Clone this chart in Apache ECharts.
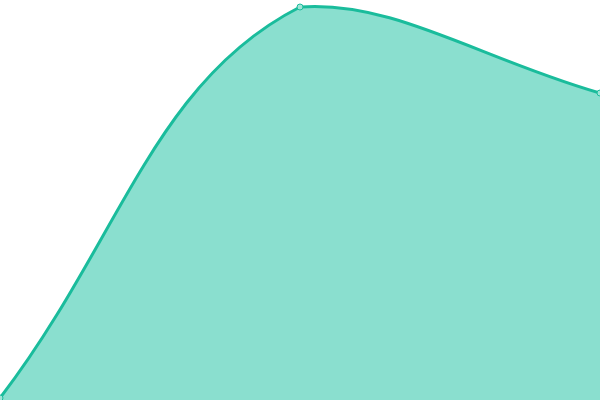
<!DOCTYPE html>
<html><head><meta charset="utf-8">
<script src="https://cdn.jsdelivr.net/npm/echarts@6/dist/echarts.min.js"></script>
<style>html,body{margin:0;padding:0;background:#fff}#c{width:600px;height:400px}</style>
</head><body><div id="c"></div>
<script>
var categories = ['A', 'B', 'C'];
var values = [2, 393, 307];

var LINE_COLOR = '#1abc9c';
var AREA_COLOR = '#8adfcf';
var TENSION = 0.4;

// Cardinal-style bezier smoothing, control points capped to the plot rect
function controlPoints(pts, smooth, rect) {
  function clamp(c) {
    return [Math.min(Math.max(c[0], rect.x), rect.x + rect.width),
            Math.min(Math.max(c[1], rect.y), rect.y + rect.height)];
  }
  var cps = [];
  for (var i = 0; i < pts.length; i++) {
    var p = pts[i];
    var prev = pts[i - 1] || p;
    var next = pts[i + 1] || p;
    var vx = next[0] - prev[0], vy = next[1] - prev[1];
    var d0 = Math.hypot(p[0] - prev[0], p[1] - prev[1]);
    var d1 = Math.hypot(p[0] - next[0], p[1] - next[1]);
    var sum = d0 + d1;
    if (sum !== 0) { d0 /= sum; d1 /= sum; }
    cps.push(clamp([p[0] - vx * smooth * d0, p[1] - vy * smooth * d0]));
    cps.push(clamp([p[0] + vx * smooth * d1, p[1] + vy * smooth * d1]));
  }
  return cps;
}

function curvePath(pts, rect) {
  var cps = controlPoints(pts, TENSION, rect);
  var d = 'M' + pts[0][0] + ' ' + pts[0][1];
  for (var i = 0; i < pts.length - 1; i++) {
    var a = cps[2 * i + 1], b = cps[2 * i + 2], q = pts[i + 1];
    d += ' C' + a[0] + ' ' + a[1] + ' ' + b[0] + ' ' + b[1] + ' ' + q[0] + ' ' + q[1];
  }
  return d;
}

function renderCurve(params, api) {
  if (params.dataIndex !== 0) return null;
  var rect = params.coordSys;
  var pts = values.map(function (v, i) { return api.coord([i, v]); });
  var base0 = api.coord([0, 0]);
  var baseN = api.coord([values.length - 1, 0]);
  var line = curvePath(pts, rect);
  var area = line + ' L' + baseN[0] + ' ' + baseN[1] + ' L' + base0[0] + ' ' + base0[1] + ' Z';
  return {
    type: 'group',
    children: [
      {type: 'path', shape: {pathData: area}, style: {fill: AREA_COLOR, stroke: null}},
      {type: 'path', shape: {pathData: line}, style: {fill: null, stroke: LINE_COLOR, lineWidth: 3}}
    ]
  };
}

var chart = echarts.init(document.getElementById('c'));
chart.setOption({
  animation: false,
  grid: {left: 0, right: 0, top: 0, bottom: 0},
  xAxis: {type: 'category', data: categories, boundaryGap: false, show: false},
  yAxis: {type: 'value', min: 0, max: 400, show: false},
  series: [
    {
      type: 'custom',
      renderItem: renderCurve,
      data: values.map(function (v, i) { return [i, v]; }),
      clip: false,
      z: 2
    },
    {
      type: 'line',
      data: values,
      symbol: 'circle',
      symbolSize: 6,
      showSymbol: true,
      lineStyle: {width: 0, opacity: 0},
      itemStyle: {color: '#9fe4d6', borderColor: LINE_COLOR, borderWidth: 1},
      z: 3
    }
  ]
});
</script></body></html>
